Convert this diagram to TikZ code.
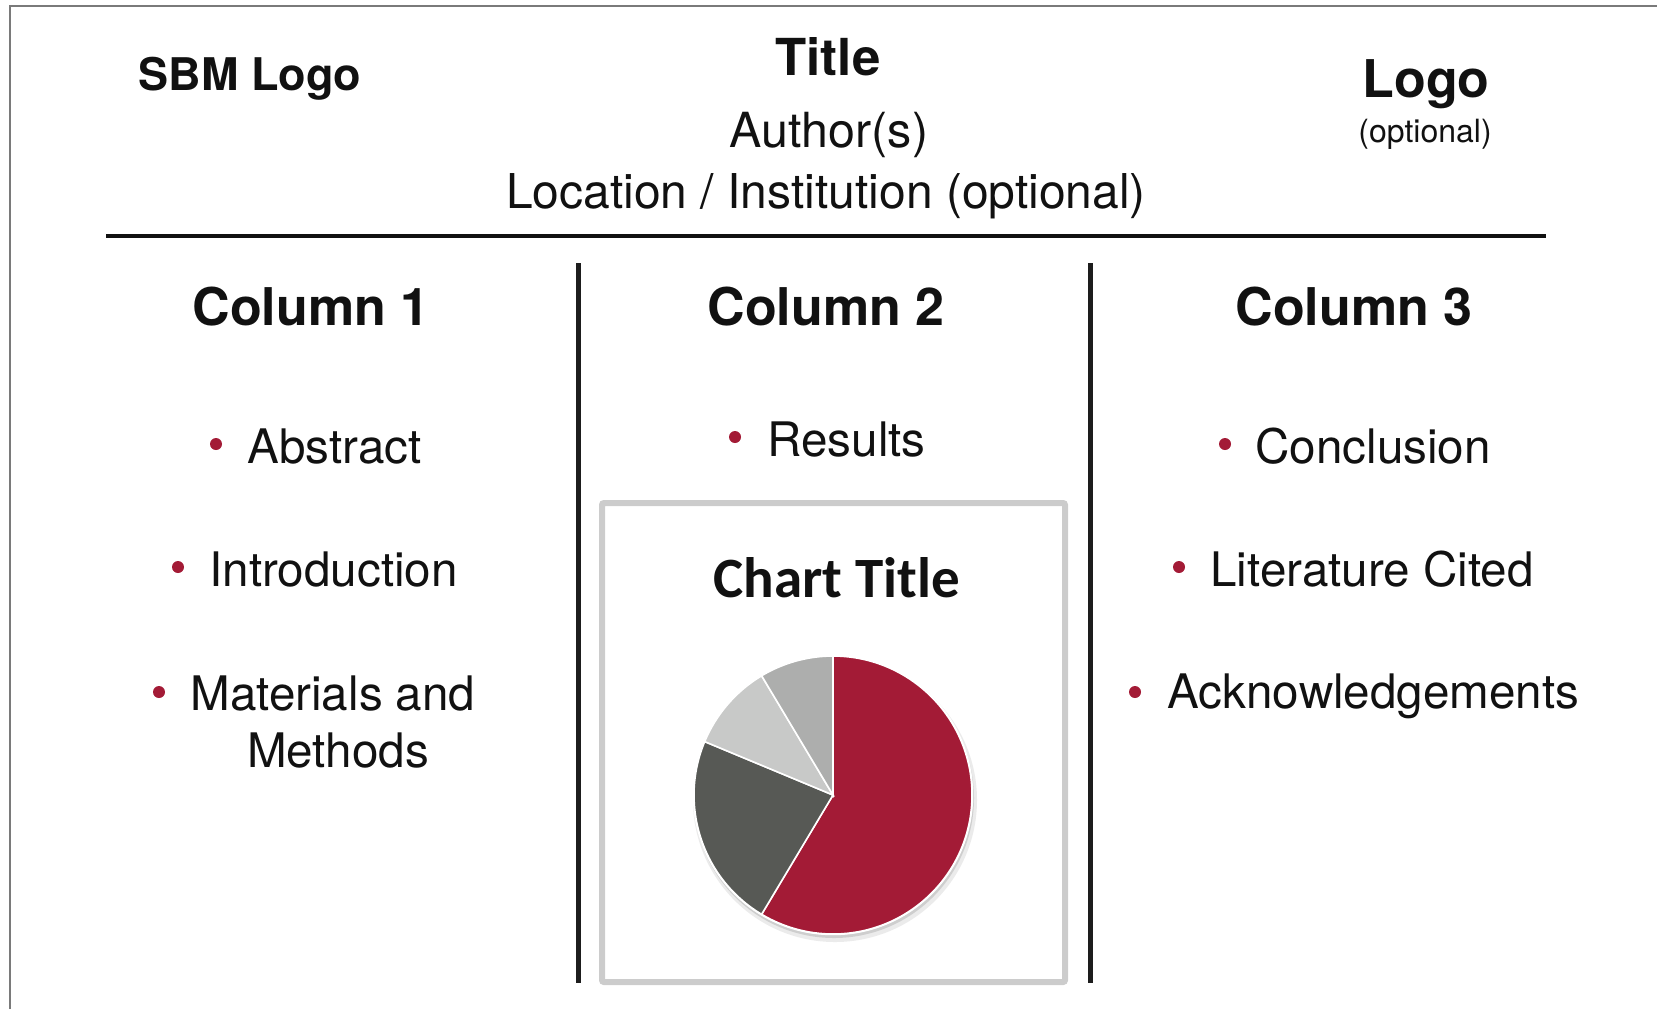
\documentclass[tikz,border=0pt]{standalone}
\usepackage{fontspec}
\setmainfont{TeX Gyre Heros}
\newfontfamily\chartfont{Carlito}
\usepackage{xcolor}
\usepackage{tikz}
\usetikzlibrary{arrows.meta}

\definecolor{crimson}{HTML}{A31B36}
\definecolor{darkslice}{HTML}{575955}
\definecolor{lightslice}{HTML}{C8C9C8}
\definecolor{midslice}{HTML}{ADAEAD}
\definecolor{framegray}{HTML}{7A7A7A}
\definecolor{boxgray}{HTML}{CCCCCC}
\definecolor{inkblack}{HTML}{111111}

\tikzset{
  txt/.style={inner sep=0pt, anchor=base west, text=inkblack, font=\fontsize{23.8}{28}\selectfont},
  head/.style={inner sep=0pt, anchor=base, text=inkblack, font=\bfseries\fontsize{26}{30}\selectfont},
  bul/.style={circle, fill=crimson, inner sep=0pt, minimum size=6pt},
  divider/.style={line width=2.5pt, draw=inkblack!95},
}

\begin{document}
\begin{tikzpicture}[x=0.5pt, y=-0.5pt]
\tikzstyle{every node}=[text=inkblack]
\useasboundingbox (0,0) rectangle (1657,1009);
% frame, rule and dividers
\draw [framegray, line width=1.25pt] (10,1009) -- (10,6) -- (1657,6);
\draw [inkblack, line width=2pt] (106,236) -- (1546,236);
\draw [divider] (578,263) -- (578,983);
\draw [divider] (1090,263) -- (1090,983);
% header
\node [anchor=base, inner sep=0pt, font=\bfseries\fontsize{22.5}{26}\selectfont] (sbm) at (250,90) {SBM Logo};
\node [anchor=base, inner sep=0pt, font=\bfseries\fontsize{25.5}{30}\selectfont] (title) at (828,75) {Title};
\node [anchor=base, inner sep=0pt, font=\fontsize{24.2}{28}\selectfont] (author) at (829,147) {Author(s)};
\node [anchor=base, inner sep=0pt, font=\fontsize{24}{28}\selectfont] (place) at (826,208) {Location / Institution (optional)};
\node [anchor=base, inner sep=0pt, font=\bfseries\fontsize{26}{30}\selectfont] (logo) at (1426,97) {Logo};
\node [anchor=base, inner sep=0pt, font=\fontsize{16}{19}\selectfont] (optional) at (1425,142) {(optional)};
% column heads
\node [head] (col1) at (311,325) {Column 1};
\node [head] (col2) at (826,325) {Column 2};
\node [head] (col3) at (1354,325) {Column 3};
% column 1
\node [bul] (b1) at (216,444) {};
\node [txt] (abstract) at (247,463) {Abstract};
\node [bul] (b2) at (178,567) {};
\node [txt] (intro) at (209,586) {Introduction};
\node [bul] (b3) at (159,692) {};
\node [txt] (materials) at (190,710) {Materials and};
\node [txt, anchor=base] (methods) at (338,767) {Methods};
% column 2
\node [bul] (b4) at (735,437) {};
\node [txt] (results) at (767,456) {Results};
\draw [boxgray, line width=3pt, rounded corners=1pt] (602,503) rectangle (1065,982);
\node [anchor=base, inner sep=0pt, font=\chartfont\bfseries\fontsize{28.5}{33}\selectfont] (charttitle) at (837,597) {Chart Title};
\coordinate (pc) at (833,795);
\fill [black, opacity=0.08] ([shift={(1pt,-2.5pt)}]pc) circle[radius=71pt];
\fill [black, opacity=0.12] ([shift={(0.5pt,-1.5pt)}]pc) circle[radius=70pt];
\fill [white] (pc) circle[radius=70.1pt];
\fill [crimson, draw=white, line width=0.8pt] (pc) -- ++(90:69.5pt) arc[start angle=90, end angle=-120.9, radius=69.5pt] -- cycle;
\fill [darkslice, draw=white, line width=0.8pt] (pc) -- ++(239.1:69.5pt) arc[start angle=239.1, end angle=157.4, radius=69.5pt] -- cycle;
\fill [lightslice, draw=white, line width=0.8pt] (pc) -- ++(157.4:69.5pt) arc[start angle=157.4, end angle=120.9, radius=69.5pt] -- cycle;
\fill [midslice, draw=white, line width=0.8pt] (pc) -- ++(120.9:69.5pt) arc[start angle=120.9, end angle=90, radius=69.5pt] -- cycle;
% column 3
\node [bul] (b5) at (1225,444) {};
\node [txt] (conclusion) at (1255,463) {Conclusion};
\node [bul] (b6) at (1179,567) {};
\node [txt] (literature) at (1210,586) {Literature Cited};
\node [bul] (b7) at (1135,692) {};
\node [txt] (ack) at (1167,708) {Acknowledgements};
\end{tikzpicture}
\end{document}
